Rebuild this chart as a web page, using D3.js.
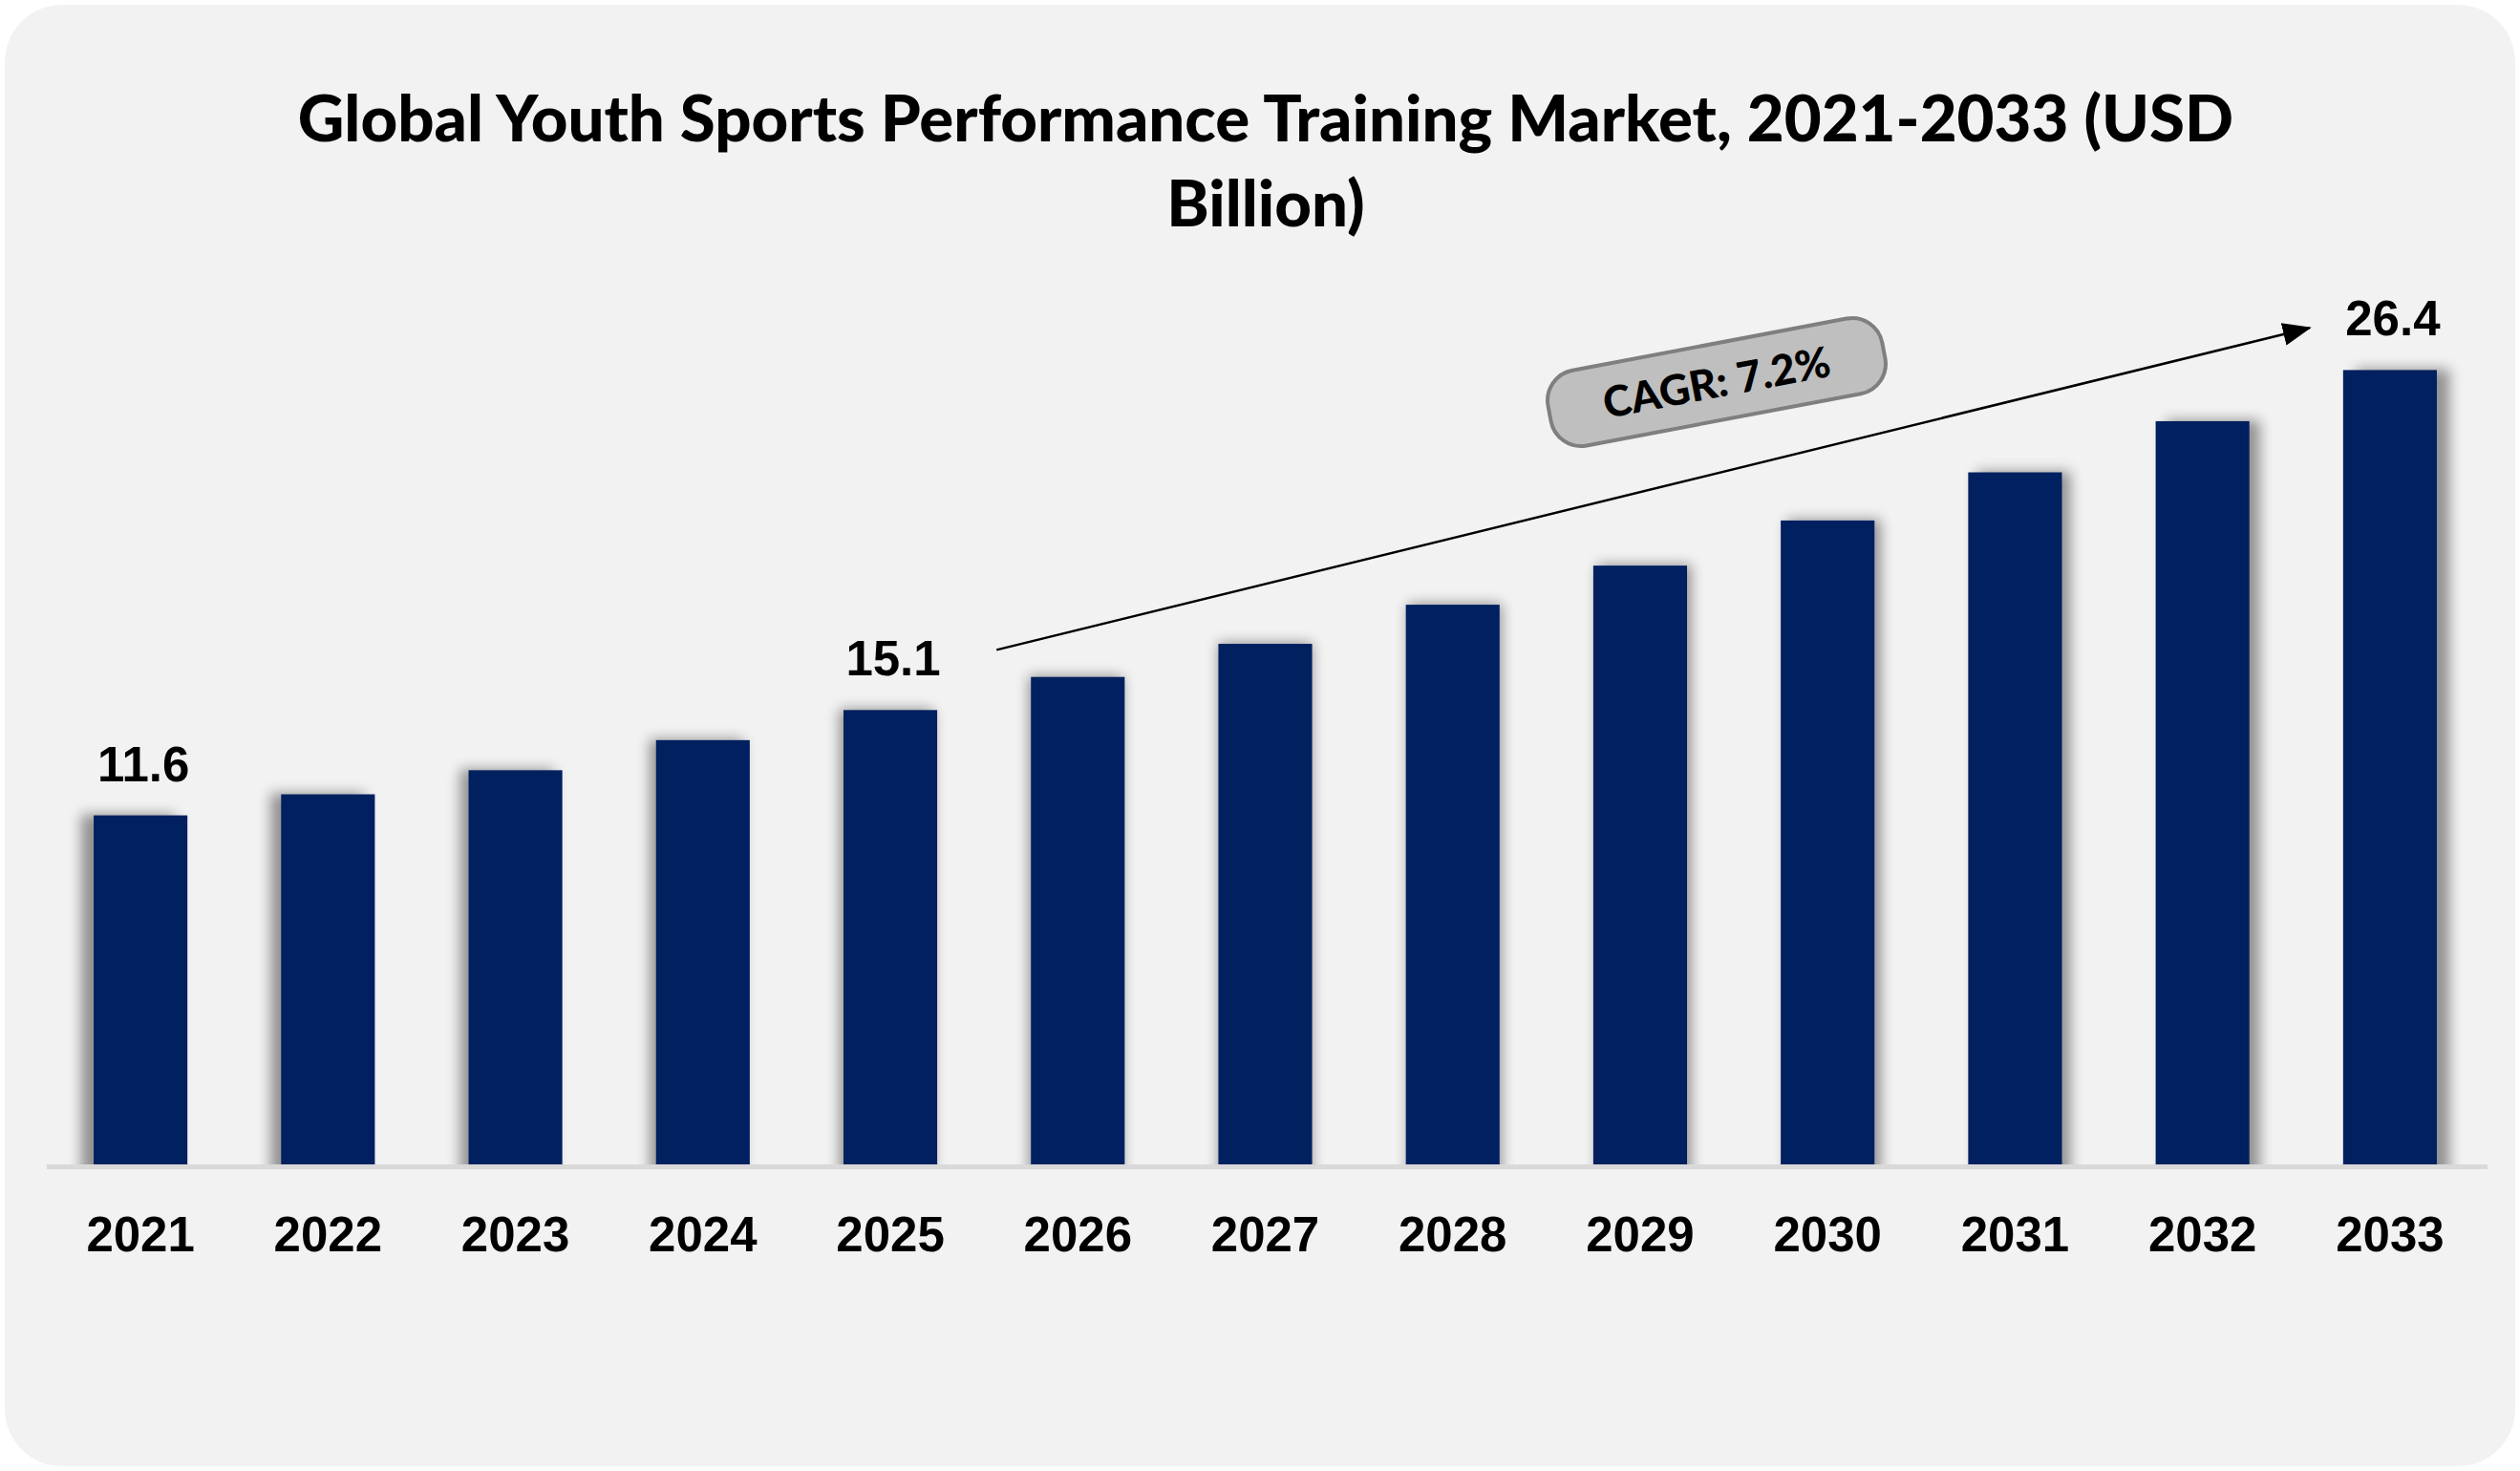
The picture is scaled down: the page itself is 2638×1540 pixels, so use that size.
<!DOCTYPE html>
<html>
<head>
<meta charset="utf-8">
<script src="https://cdn.jsdelivr.net/npm/d3@7"></script>
<style>
  body { margin: 0; background: #fff; }
  svg { display: block; }
</style>
</head>
<body>
<div id="chart"></div>
<script>
// data -------------------------------------------------------------
var years = ["2021","2022","2023","2024","2025","2026","2027","2028","2029","2030","2031","2032","2033"];
var values = [11.6, 12.3, 13.1, 14.1, 15.1, 16.2, 17.3, 18.6, 19.9, 21.4, 23.0, 24.7, 26.4];
var labelled = ["2021", "2025", "2033"];
var titleLines = ["Global Youth Sports Performance Training Market, 2021-2033 (USD", "Billion)"];
var cagrText = "CAGR: 7.2%";

var W = 2638, H = 1540;

var svg = d3.select("#chart").append("svg")
  .attr("width", W)
  .attr("height", H);

var defs = svg.append("defs");

// card background
svg.append("rect")
  .attr("x", 5).attr("y", 5)
  .attr("width", W - 10).attr("height", H - 10)
  .attr("rx", 60).attr("ry", 60)
  .attr("fill", "#f2f2f2");

// title
function fitText(sel, target) {
  var w = sel.node().getComputedTextLength();
  var fs = parseFloat(sel.attr("font-size"));
  sel.attr("font-size", fs * target / w);
}

var title = svg.append("g").attr("font-family", "Lato, 'Open Sans', sans-serif")
  .attr("font-weight", 900).attr("fill", "#000").attr("text-anchor", "middle");
var t1 = title.append("text").attr("x", 1325).attr("y", 148).attr("font-size", 62).text(titleLines[0]);
fitText(t1, 2027);
title.append("text").attr("x", 1325).attr("y", 237).attr("font-size", t1.attr("font-size")).text(titleLines[1]);

// scales
var x = d3.scaleBand()
  .domain(years)
  .range([49, 2600])
  .paddingInner(0.5)
  .paddingOuter(0.25);

var y = d3.scaleLinear()
  .domain([0, 30])
  .range([1219, 1219 - 30 * 31.5]);

var bw = x.bandwidth();

// shadows -----------------------------------------------------------
defs.append("filter").attr("id", "blur")
  .attr("x", "-50%").attr("y", "-20%").attr("width", "200%").attr("height", "140%")
  .append("feGaussianBlur").attr("stdDeviation", 7);

defs.append("clipPath").attr("id", "above-axis")
  .append("rect").attr("x", 0).attr("y", 0).attr("width", W).attr("height", y(0));

svg.append("g")
  .attr("clip-path", "url(#above-axis)")
  .selectAll("rect")
  .data(values)
  .join("rect")
    .attr("x", function(d, i) { return x(years[i]) + (i - 6) * 2.2; })
    .attr("y", function(d) { return y(d) - 1; })
    .attr("width", bw)
    .attr("height", function(d) { return y(0) - y(d) + 30; })
    .attr("fill", "#000")
    .attr("opacity", 0.4)
    .attr("filter", "url(#blur)");

// bars
svg.append("g")
  .selectAll("rect")
  .data(values)
  .join("rect")
    .attr("x", function(d, i) { return x(years[i]); })
    .attr("y", function(d) { return y(d); })
    .attr("width", bw)
    .attr("height", function(d) { return y(0) - y(d); })
    .attr("fill", "#002060");

// axis line
svg.append("rect")
  .attr("x", 49).attr("y", y(0))
  .attr("width", 2604 - 49).attr("height", 5)
  .attr("fill", "#d9d9d9");

// x axis labels
var xAxis = d3.axisBottom(x).tickSize(0).tickPadding(0);
var gx = svg.append("g")
  .attr("transform", "translate(0," + y(0) + ")")
  .call(xAxis);
gx.select(".domain").remove();
gx.selectAll("text")
  .attr("y", 0)
  .attr("dy", 0)
  .attr("transform", "translate(0,91)")
  .attr("font-family", "'Liberation Sans', Arial, sans-serif")
  .attr("font-weight", 700)
  .attr("font-size", 51)
  .attr("fill", "#000");

// value labels
svg.append("g")
  .selectAll("text")
  .data(years.filter(function(yr) { return labelled.indexOf(yr) >= 0; }))
  .join("text")
    .attr("x", function(yr) { return x(yr) + bw / 2 + 3; })
    .attr("y", function(yr) { return y(values[years.indexOf(yr)]) - 36; })
    .attr("text-anchor", "middle")
    .attr("font-family", "'Liberation Sans', Arial, sans-serif")
    .attr("font-weight", 700)
    .attr("font-size", 51)
    .attr("fill", "#000")
    .text(function(yr) { return values[years.indexOf(yr)].toFixed(1); });

// CAGR arrow
defs.append("marker")
  .attr("id", "arrowhead")
  .attr("viewBox", "0 0 30 24")
  .attr("refX", 28).attr("refY", 12)
  .attr("markerWidth", 30).attr("markerHeight", 24)
  .attr("markerUnits", "userSpaceOnUse")
  .attr("orient", "auto")
  .append("path")
    .attr("d", "M0,0 L30,12 L0,24 Z")
    .attr("fill", "#000");

svg.append("line")
  .attr("x1", x("2026") - 36).attr("y1", y(17.1))
  .attr("x2", x("2033") - 35).attr("y2", y(27.8))
  .attr("stroke", "#000")
  .attr("stroke-width", 2.5)
  .attr("marker-end", "url(#arrowhead)");

// CAGR pill
var pill = svg.append("g")
  .attr("transform", "translate(1797,400) rotate(-10.7)");
pill.append("rect")
  .attr("x", -178).attr("y", -40)
  .attr("width", 356).attr("height", 80)
  .attr("rx", 32).attr("ry", 32)
  .attr("fill", "#bfbfbf")
  .attr("stroke", "#7f7f7f")
  .attr("stroke-width", 4);
var ct = pill.append("text")
  .attr("x", 0).attr("y", 16)
  .attr("text-anchor", "middle")
  .attr("font-family", "Lato, 'Open Sans', sans-serif")
  .attr("font-weight", 900)
  .attr("font-size", 44)
  .attr("fill", "#000")
  .text(cagrText);
fitText(ct, 241);
</script>
</body>
</html>
